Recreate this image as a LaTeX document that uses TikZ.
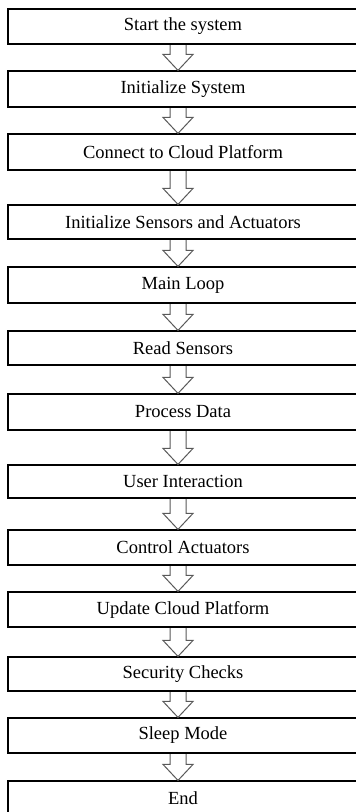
\documentclass[tikz,border=0pt]{standalone}
\usepackage{fontspec}
\setmainfont{Liberation Serif}
\usetikzlibrary{calc}
\tikzset{
  stepbox/.style={draw=black, line width=1.2pt, rectangle, inner sep=0pt,
    minimum width=350pt, font=\fontsize{18.5}{20}\selectfont},
  blockarrow/.style={draw=black!65, fill=white, line width=1pt, line join=miter}
}
\newcommand\barrow[2]{%
  \draw[blockarrow] let \p1=(#1.south), \p2=(#2.north) in
    (\x1-13pt,\y1-0.6pt) -- (\x1-13pt,\y2+16pt) -- (\x1-20pt,\y2+16pt) --
    (\x1-5pt,\y2) -- (\x1+10pt,\y2+16pt) -- (\x1+3pt,\y2+16pt) -- (\x1+3pt,\y1-0.6pt);}
\begin{document}
\begin{tikzpicture}[x=1pt,y=-1pt]
\clip (0,0) rectangle (356,812);
\fill[white] (0,0) rectangle (356,812);
\node[stepbox, minimum height=35pt] (b1)  at (183,26.5)  {Start the system};
\node[stepbox, minimum height=36pt] (b2)  at (183,89)    {Initialize System};
\node[stepbox, minimum height=36pt] (b3)  at (183,152)   {Connect to Cloud Platform};
\node[stepbox, minimum height=34pt] (b4)  at (183,222)   {Initialize Sensors and Actuators};
\node[stepbox, minimum height=36pt] (b5)  at (183,285)   {Main Loop};
\node[stepbox, minimum height=34pt] (b6)  at (183,348)   {Read Sensors};
\node[stepbox, minimum height=36pt] (b7)  at (183,412)   {Process Data};
\node[stepbox, minimum height=33pt] (b8)  at (183,481.5) {User Interaction};
\node[stepbox, minimum height=35pt] (b9)  at (183,547.5) {Control Actuators};
\node[stepbox, minimum height=35pt] (b10) at (183,609.5) {Update Cloud Platform};
\node[stepbox, minimum height=34pt] (b11) at (183,674)   {Security Checks};
\node[stepbox, minimum height=35pt] (b12) at (183,735.5) {Sleep Mode};
\node[stepbox, minimum height=34pt] (b13) at (183,798)   {End};
\barrow{b1}{b2}
\barrow{b2}{b3}
\barrow{b3}{b4}
\barrow{b4}{b5}
\barrow{b5}{b6}
\barrow{b6}{b7}
\barrow{b7}{b8}
\barrow{b8}{b9}
\barrow{b9}{b10}
\barrow{b10}{b11}
\barrow{b11}{b12}
\barrow{b12}{b13}
\end{tikzpicture}
\end{document}
